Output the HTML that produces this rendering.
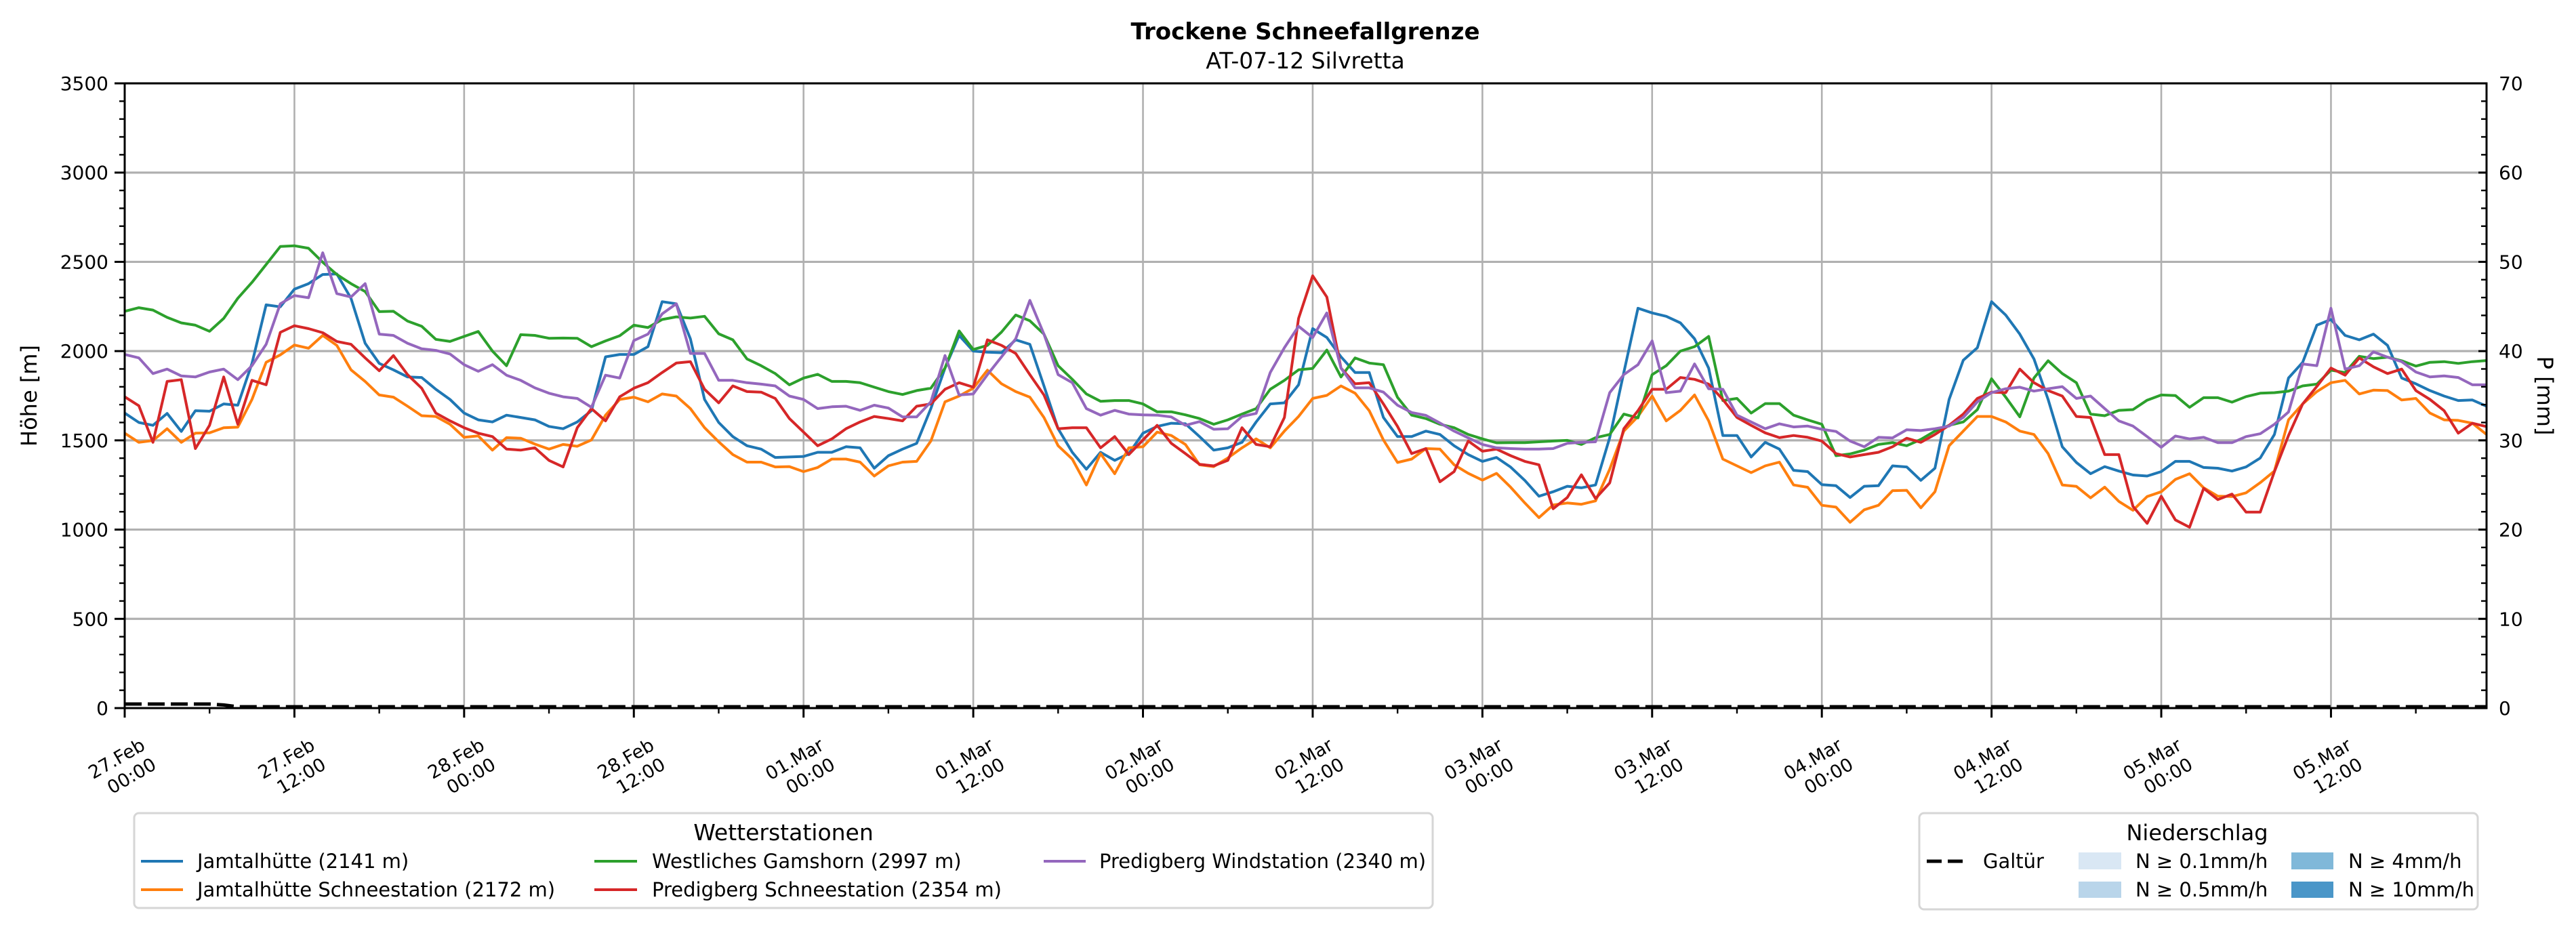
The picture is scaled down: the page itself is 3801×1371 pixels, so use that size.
<!DOCTYPE html>
<html><head><meta charset="utf-8"><title>Trockene Schneefallgrenze</title>
<style>
html,body{margin:0;padding:0;background:#fff;}
svg{display:block;font-family:"DejaVu Sans","Liberation Sans",sans-serif;}
</style></head>
<body>
<svg id="chart" width="3801" height="1371" viewBox="0 0 3801 1371" xmlns="http://www.w3.org/2000/svg">
  <rect x="0" y="0" width="3801" height="1371" fill="#fff"/>
  <text x="1926" y="58" text-anchor="middle" font-size="34" font-weight="bold">Trockene Schneefallgrenze</text>
  <text x="1926" y="101" text-anchor="middle" font-size="33">AT-07-12 Silvretta</text>
  <g id="grid"></g>
  <g id="series"></g>
  <g id="axes"></g>
  <text transform="translate(54,584) rotate(-90)" text-anchor="middle" font-size="32">Höhe [m]</text>
  <text transform="translate(3744,584) rotate(90)" text-anchor="middle" font-size="32">P [mm]</text>

  <!-- Legend: Wetterstationen -->
  <g>
    <rect x="198" y="1200" width="1916" height="140" rx="7" fill="#fff" stroke="#d6d6d6" stroke-width="3"/>
    <text x="1156" y="1240" text-anchor="middle" font-size="33">Wetterstationen</text>
    <g>
      <line x1="208" y1="1271" x2="270" y2="1271" stroke="#1f77b4" stroke-width="4"/>
      <text x="291" y="1281" font-size="29">Jamtalhütte (2141 m)</text>
    </g>
    <g>
      <line x1="208" y1="1313" x2="270" y2="1313" stroke="#ff7f0e" stroke-width="4"/>
      <text x="291" y="1323" font-size="29">Jamtalhütte Schneestation (2172 m)</text>
    </g>
    <g>
      <line x1="877" y1="1271" x2="940" y2="1271" stroke="#2ca02c" stroke-width="4"/>
      <text x="962" y="1281" font-size="29">Westliches Gamshorn (2997 m)</text>
    </g>
    <g>
      <line x1="877" y1="1313" x2="940" y2="1313" stroke="#d62728" stroke-width="4"/>
      <text x="962" y="1323" font-size="29">Predigberg Schneestation (2354 m)</text>
    </g>
    <g>
      <line x1="1540" y1="1271" x2="1602" y2="1271" stroke="#9467bd" stroke-width="4"/>
      <text x="1622" y="1281" font-size="29">Predigberg Windstation (2340 m)</text>
    </g>
  </g>

  <!-- Legend: Niederschlag -->
  <g>
    <rect x="2832" y="1200" width="824" height="142" rx="7" fill="#fff" stroke="#d6d6d6" stroke-width="3"/>
    <text x="3242" y="1240" text-anchor="middle" font-size="32">Niederschlag</text>
    <g>
      <line x1="2843" y1="1271" x2="2901" y2="1271" stroke="#000" stroke-width="5" stroke-dasharray="22,9"/>
      <text x="2926" y="1281" font-size="29">Galtür</text>
    </g>
    <g>
      <rect x="3067" y="1258" width="63" height="25" fill="#d9e7f4"/>
      <text x="3151" y="1281" font-size="29">N ≥ 0.1mm/h</text>
    </g>
    <g>
      <rect x="3067" y="1301" width="63" height="24" fill="#b9d5ea"/>
      <text x="3151" y="1323" font-size="29">N ≥ 0.5mm/h</text>
    </g>
    <g>
      <rect x="3381" y="1258" width="62" height="25" fill="#80b8d9"/>
      <text x="3465" y="1281" font-size="29">N ≥ 4mm/h</text>
    </g>
    <g>
      <rect x="3381" y="1301" width="62" height="24" fill="#4a96c8"/>
      <text x="3465" y="1323" font-size="29">N ≥ 10mm/h</text>
    </g>
  </g>
</svg>
<script>
// ---- data (hourly, starting 27.Feb 00:00) ----
const jamtal = [1653,1600,1584,1651,1550,1666,1663,1704,1697,1931,
2259,2248,2347,2378,2429,2432,2296,2044,1931,1895,
1855,1852,1786,1729,1653,1615,1603,1641,1628,1615,
1578,1565,1603,1666,1968,1981,1981,2025,2277,2265,
2069,1729,1600,1521,1470,1451,1404,1407,1410,1433,
1433,1464,1458,1344,1414,1451,1483,1678,1905,2088,
2000,1994,1991,2063,2038,1805,1565,1433,1338,1433,
1388,1426,1540,1578,1596,1593,1521,1445,1458,1489,
1603,1704,1710,1811,2126,2076,1968,1880,1880,1628,
1521,1521,1552,1533,1470,1420,1382,1404,1350,1275,
1187,1212,1243,1234,1250,1515,1880,2240,2214,2195,
2158,2069,1905,1527,1527,1407,1489,1451,1332,1325,
1252,1246,1180,1243,1246,1357,1351,1276,1344,1729,
1949,2019,2277,2202,2095,1956,1729,1464,1376,1313,
1353,1328,1306,1300,1325,1382,1382,1348,1344,1328,
1351,1401,1533,1849,1937,2145,2177,2088,2063,2095,
2032,1849,1817,1779,1748,1723,1726,1691];
const jamtalSchnee = [1540,1489,1499,1565,1489,1540,1542,1571,1574,1729,
1937,1979,2034,2016,2088,2032,1895,1830,1754,1742,
1691,1638,1634,1590,1517,1525,1445,1515,1512,1479,
1451,1477,1467,1502,1641,1729,1742,1716,1760,1748,
1678,1571,1492,1420,1378,1378,1351,1353,1325,1348,
1395,1395,1378,1300,1357,1378,1382,1496,1716,1748,
1792,1893,1817,1773,1742,1628,1470,1395,1250,1426,
1313,1458,1464,1546,1527,1477,1363,1353,1401,1458,
1508,1458,1552,1634,1735,1752,1805,1764,1666,1502,
1376,1395,1454,1451,1363,1315,1277,1315,1237,1149,
1067,1138,1149,1142,1161,1338,1552,1634,1748,1609,
1668,1754,1609,1395,1357,1319,1357,1378,1250,1237,
1136,1126,1041,1111,1136,1218,1220,1122,1212,1470,
1552,1634,1634,1603,1552,1533,1426,1250,1242,1178,
1238,1158,1108,1185,1212,1281,1313,1234,1187,1185,
1206,1263,1328,1615,1704,1773,1823,1836,1760,1781,
1779,1726,1735,1653,1615,1612,1596,1533];
const gamshorn = [2223,2243,2230,2189,2158,2145,2111,2183,2296,2385,
2485,2586,2590,2576,2498,2429,2378,2334,2221,2223,
2168,2139,2066,2054,2082,2110,2000,1918,2092,2088,
2072,2073,2072,2025,2057,2086,2145,2132,2177,2192,
2185,2195,2097,2063,1956,1918,1874,1811,1849,1870,
1830,1830,1823,1798,1773,1757,1779,1792,1905,2113,
2009,2032,2107,2202,2170,2095,1918,1842,1760,1719,
1723,1723,1704,1660,1660,1643,1622,1590,1615,1647,
1678,1786,1836,1895,1903,2006,1855,1962,1933,1924,
1741,1641,1622,1590,1571,1533,1508,1486,1487,1487,
1492,1496,1500,1477,1515,1533,1647,1626,1868,1918,
2000,2025,2082,1723,1735,1653,1706,1706,1641,1615,
1590,1414,1424,1445,1477,1487,1470,1505,1552,1584,
1603,1672,1845,1742,1632,1849,1946,1874,1823,1647,
1638,1668,1672,1725,1754,1751,1685,1739,1739,1714,
1745,1764,1767,1776,1805,1815,1893,1880,1971,1958,
1966,1946,1916,1937,1941,1931,1941,1947];
const predigSchnee = [1744,1694,1489,1830,1840,1454,1584,1855,1590,1836,
1811,2105,2142,2126,2103,2054,2038,1962,1890,1975,
1868,1792,1653,1609,1571,1540,1521,1451,1445,1458,
1388,1351,1571,1678,1609,1744,1792,1823,1880,1933,
1941,1786,1710,1805,1773,1770,1735,1622,1546,1470,
1508,1565,1603,1634,1622,1609,1691,1704,1786,1823,
1798,2063,2032,1987,1868,1754,1565,1571,1571,1458,
1521,1420,1502,1584,1483,1426,1366,1357,1388,1571,
1477,1464,1628,2183,2422,2303,1905,1817,1823,1704,
1578,1426,1454,1268,1325,1496,1439,1451,1414,1382,
1363,1117,1180,1307,1174,1262,1565,1666,1786,1786,
1852,1842,1815,1729,1628,1584,1542,1515,1527,1517,
1496,1426,1407,1420,1433,1464,1512,1489,1533,1584,
1647,1735,1770,1767,1899,1823,1779,1748,1634,1628,
1420,1420,1130,1035,1187,1054,1013,1231,1168,1199,
1098,1098,1325,1527,1704,1802,1905,1865,1962,1912,
1874,1899,1779,1729,1666,1540,1596,1577];
const predigWind = [1981,1962,1874,1899,1861,1855,1883,1899,1840,1918,
2038,2265,2311,2299,2551,2322,2303,2378,2095,2088,
2044,2013,2004,1984,1924,1887,1924,1865,1836,1794,
1764,1744,1735,1685,1865,1849,2059,2095,2208,2265,
1987,1987,1836,1836,1823,1815,1805,1748,1729,1678,
1688,1691,1668,1697,1681,1631,1631,1716,1975,1754,
1760,1868,1968,2069,2284,2095,1868,1823,1678,1641,
1668,1647,1643,1641,1631,1584,1605,1562,1565,1634,
1651,1880,2019,2139,2076,2214,1905,1794,1794,1770,
1697,1656,1640,1597,1552,1514,1477,1458,1454,1451,
1451,1454,1483,1489,1492,1767,1868,1924,2057,1767,
1776,1928,1789,1786,1641,1603,1565,1593,1575,1580,
1562,1550,1496,1464,1517,1514,1559,1555,1565,1580,
1628,1716,1767,1789,1798,1776,1789,1801,1735,1748,
1678,1609,1580,1521,1461,1524,1508,1517,1487,1487,
1521,1537,1590,1659,1928,1918,2240,1899,1918,1996,
1966,1941,1883,1855,1861,1852,1811,1811];
const galtur = [0.3,0.3,0.3,0.3,0.3,0.3,0.3,0.2];
const xTickDays = ["27.Feb","27.Feb","28.Feb","28.Feb","01.Mar","01.Mar","02.Mar","02.Mar","03.Mar","03.Mar","04.Mar","04.Mar","05.Mar","05.Mar"];
const xTickTimes = ["00:00","12:00","00:00","12:00","00:00","12:00","00:00","12:00","00:00","12:00","00:00","12:00","00:00","12:00"];
const yTicks = [0,500,1000,1500,2000,2500,3000,3500];
const y2Ticks = [0,10,20,30,40,50,60,70];

// ---- scales ----
const X0=184, X1=3669, Y0=1045, Y1=123, HMAX=167, YMAX=3500, PMAX=70;
function xs(h){return X0+(X1-X0)*h/HMAX;}
function ys(v){return Y0-(Y0-Y1)*v/YMAX;}
function yp(v){return Y0-(Y0-Y1)*v/PMAX;}
const NS="http://www.w3.org/2000/svg";
function mk(tag,attrs,parent){const e=document.createElementNS(NS,tag);for(const k in attrs)e.setAttribute(k,attrs[k]);parent.appendChild(e);return e;}

const grid=document.getElementById('grid');
const axes=document.getElementById('axes');
const series=document.getElementById('series');

for(let i=0;i<xTickDays.length;i++){
  const x=xs(i*12);
  const l=mk('line',{x1:x,y1:Y1,x2:x,y2:Y0,stroke:'#b0b0b0','stroke-width':2.6},grid);
  
  
}
yTicks.forEach(v=>{
  const y=ys(v);
  const l=mk('line',{x1:X0,y1:y,x2:X1,y2:y,stroke:'#b0b0b0','stroke-width':3.2},grid);
  
  
});

const defs=[[jamtal,'#1f77b4','line-jamtalhuette'],[jamtalSchnee,'#ff7f0e','line-jamtalhuette-schneestation'],[gamshorn,'#2ca02c','line-westliches-gamshorn'],[predigSchnee,'#d62728','line-predigberg-schneestation'],[predigWind,'#9467bd','line-predigberg-windstation']];
defs.forEach(([arr,col,name])=>{
  const d=arr.map((v,i)=>(i?'L':'M')+xs(i).toFixed(1)+','+ys(v).toFixed(1)).join(' ');
  const p=mk('path',{d:d,fill:'none',stroke:col,'stroke-width':4,'stroke-linejoin':'round'},series);
  
  
});
{
  const vals=[];for(let i=0;i<=HMAX;i++)vals.push(i<galtur.length?galtur[i]:0);
  const d=vals.map((v,i)=>(i?'L':'M')+xs(i).toFixed(1)+','+(yp(v)-2).toFixed(1)).join(' ');
  const p=mk('path',{d:d,fill:'none',stroke:'#000','stroke-width':5,'stroke-dasharray':'25,9'},series);
  
  
}

const frame=mk('rect',{x:X0,y:Y1,width:X1-X0,height:Y0-Y1,fill:'none',stroke:'#000','stroke-width':3},axes);



yTicks.forEach(v=>{
  const y=ys(v);
  mk('line',{x1:X0-15,y1:y,x2:X0,y2:y,stroke:'#000','stroke-width':3},axes);
  const t=mk('text',{x:X0-24,y:y+10,'text-anchor':'end','font-size':28},axes);
  t.textContent=v;
  
  
});
for(let v=0;v<=YMAX;v+=100){ if(v%500){const y=ys(v);mk('line',{x1:X0-8,y1:y,x2:X0,y2:y,stroke:'#000','stroke-width':2.4},axes);} }
y2Ticks.forEach(v=>{
  const y=yp(v);
  mk('line',{x1:X1-12,y1:y,x2:X1,y2:y,stroke:'#000','stroke-width':3},axes);
  const t=mk('text',{x:X1+18,y:y+10,'text-anchor':'start','font-size':28},axes);
  t.textContent=v;
  
  
});
for(let v=0;v<=PMAX;v+=2){ if(v%10){const y=yp(v);mk('line',{x1:X1-8,y1:y,x2:X1,y2:y,stroke:'#000','stroke-width':2.4},axes);} }
for(let h=0;h<=HMAX;h+=6){
  const x=xs(h), major=(h%12===0);
  mk('line',{x1:x,y1:Y0,x2:x,y2:Y0+(major?14:8),stroke:'#000','stroke-width':major?3:2.4},axes);
}
xTickDays.forEach((d,i)=>{
  const x=xs(i*12);
  const g=mk('g',{transform:'translate('+(x+32)+',1105) rotate(-30)'},axes);
  
  
  const t1=mk('text',{x:0,y:0,'text-anchor':'end','font-size':27},g);t1.textContent=d;
  const t2=mk('text',{x:0,y:33,'text-anchor':'end','font-size':27},g);t2.textContent=xTickTimes[i];
});
</script>
</body></html>
